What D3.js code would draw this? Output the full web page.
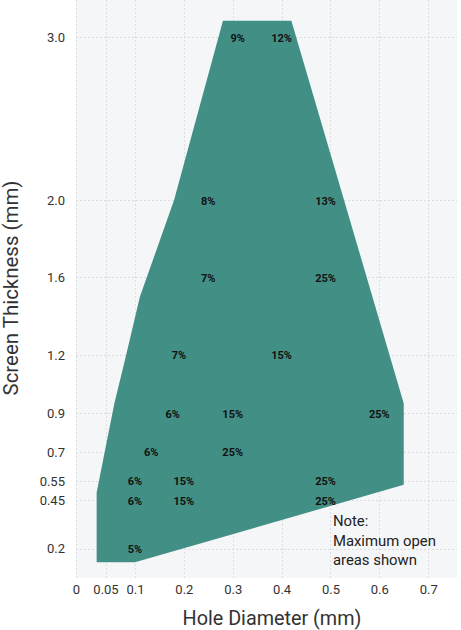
<!DOCTYPE html>
<html><head><meta charset="utf-8">
<script src="https://cdn.jsdelivr.net/npm/d3@7"></script>
<style>
body{margin:0;background:#fff;}
svg{display:block;font-family:Roboto, "Noto Sans", sans-serif;}
</style></head>
<body><svg id="c" width="461" height="630"></svg>
<script>
// ---- data ----
const xTicks = [0, 0.05, 0.1, 0.2, 0.3, 0.4, 0.5, 0.6, 0.7];
const xTickLabels = ["0", "0.05", "0.1", "0.2", "0.3", "0.4", "0.5", "0.6", "0.7"];
const yTicks = [0.2, 0.45, 0.55, 0.7, 0.9, 1.2, 1.6, 2.0, 3.0];
const yTickLabels = ["0.2", "0.45", "0.55", "0.7", "0.9", "1.2", "1.6", "2.0", "3.0"];
// boundary of the feasible region (hole diameter mm, screen thickness mm)
const regionHole  = [0.035, 0.035, 0.065, 0.085, 0.11, 0.18, 0.28, 0.42, 0.65, 0.65, 0.10];
const regionThick = [0.13,  0.49,  0.95,  1.20,  1.50, 2.00, 3.10, 3.10, 0.95, 0.53, 0.13];
// open-area labels
const labelHole  = [0.31, 0.40, 0.25, 0.49, 0.25, 0.49, 0.19, 0.40, 0.177, 0.30, 0.60, 0.133, 0.30, 0.10, 0.20, 0.49, 0.10, 0.20, 0.49, 0.10];
const labelThick = [3.0,  3.0,  2.0,  2.0,  1.6,  1.6,  1.2,  1.2,  0.9,   0.9,  0.9,  0.7,   0.7,  0.55, 0.55, 0.55, 0.45, 0.45, 0.45, 0.2];
const labelText  = ["9%", "12%", "8%", "13%", "7%", "25%", "7%", "15%", "6%", "15%", "25%", "6%", "25%", "6%", "15%", "25%", "6%", "15%", "25%", "5%"];
const noteLines = ["Note:", "Maximum open", "areas shown"];

// ---- layout ----
const plot = {left: 76, right: 457, top: 0, bottom: 578};
const svg = d3.select("#c");

// piecewise-linear scales (axis is stretched below 0.1 mm and compressed above 2.0 mm)
const x = d3.scaleLinear().domain([0, 0.1, 0.759]).range([plot.left, 135, plot.right]);
const y = d3.scaleLinear().domain([0.049, 2.0, 3.227]).range([plot.bottom, 200, plot.top]);

// background
svg.append("rect").attr("x", plot.left).attr("y", plot.top)
  .attr("width", plot.right - plot.left).attr("height", plot.bottom - plot.top)
  .attr("fill", "#f5f6f8");

// grid
const grid = svg.append("g").attr("stroke", "#dcdde0").attr("stroke-width", 1).attr("stroke-dasharray", "2,2");
grid.selectAll("line.v").data(xTicks).join("line").attr("class", "v")
  .attr("x1", d => Math.round(x(d)) + 0.5).attr("x2", d => Math.round(x(d)) + 0.5)
  .attr("y1", plot.top).attr("y2", plot.bottom);
grid.selectAll("line.h").data(yTicks).join("line").attr("class", "h")
  .attr("y1", d => Math.round(y(d)) + 0.5).attr("y2", d => Math.round(y(d)) + 0.5)
  .attr("x1", plot.left).attr("x2", plot.right);

// region
const pts = regionHole.map((h, i) => [x(h), y(regionThick[i])]);
svg.append("path").attr("d", d3.line()(pts) + "Z").attr("fill", "#428f85");

// labels
svg.append("g").selectAll("text").data(labelText).join("text")
  .attr("x", (d, i) => x(labelHole[i]))
  .attr("y", (d, i) => y(labelThick[i]) + 1)
  .attr("text-anchor", "middle").attr("dominant-baseline", "central")
  .attr("font-size", 11).attr("font-weight", 700).attr("fill", "#111")
  .text(d => d);

// axes
const xAxis = d3.axisBottom(x).tickValues(xTicks).tickFormat((d, i) => xTickLabels[i]).tickSize(0).tickPadding(7);
const gx = svg.append("g").attr("transform", `translate(0,${plot.bottom})`).call(xAxis);
gx.select(".domain").remove();
gx.selectAll("text").attr("font-size", 13).attr("fill", "#333").attr("font-family", "Roboto, sans-serif");

const yAxis = d3.axisLeft(y).tickValues(yTicks).tickFormat((d, i) => yTickLabels[i]).tickSize(0).tickPadding(11);
const gy = svg.append("g").attr("transform", `translate(${plot.left},0)`).call(yAxis);
gy.select(".domain").remove();
gy.selectAll("text").attr("font-size", 13).attr("fill", "#333").attr("font-family", "Roboto, sans-serif");

// axis titles (font size tuned so text width matches the reference)
function fitText(sel, target) {
  const len = sel.node().getComputedTextLength();
  const fs = parseFloat(sel.attr("font-size"));
  sel.attr("font-size", (fs * target / len).toFixed(2));
}
const xt = svg.append("text").attr("x", 272).attr("y", 625).attr("text-anchor", "middle")
  .attr("font-size", 18).attr("fill", "#333").text("Hole Diameter (mm)");
fitText(xt, 179);
const yt = svg.append("text").attr("transform", "translate(18,288) rotate(-90)").attr("text-anchor", "middle")
  .attr("font-size", 18).attr("fill", "#333").text("Screen Thickness (mm)");
fitText(yt, 215);

// note
const nt = svg.append("g").selectAll("text").data(noteLines).join("text")
  .attr("x", x(0.505)).attr("y", (d, i) => 526 + i * 19.5)
  .attr("font-size", 14).attr("fill", "#222").text(d => d);
fitText(d3.select(nt.nodes()[1]), 103);
nt.attr("font-size", d3.select(nt.nodes()[1]).attr("font-size"));
</script></body></html>
